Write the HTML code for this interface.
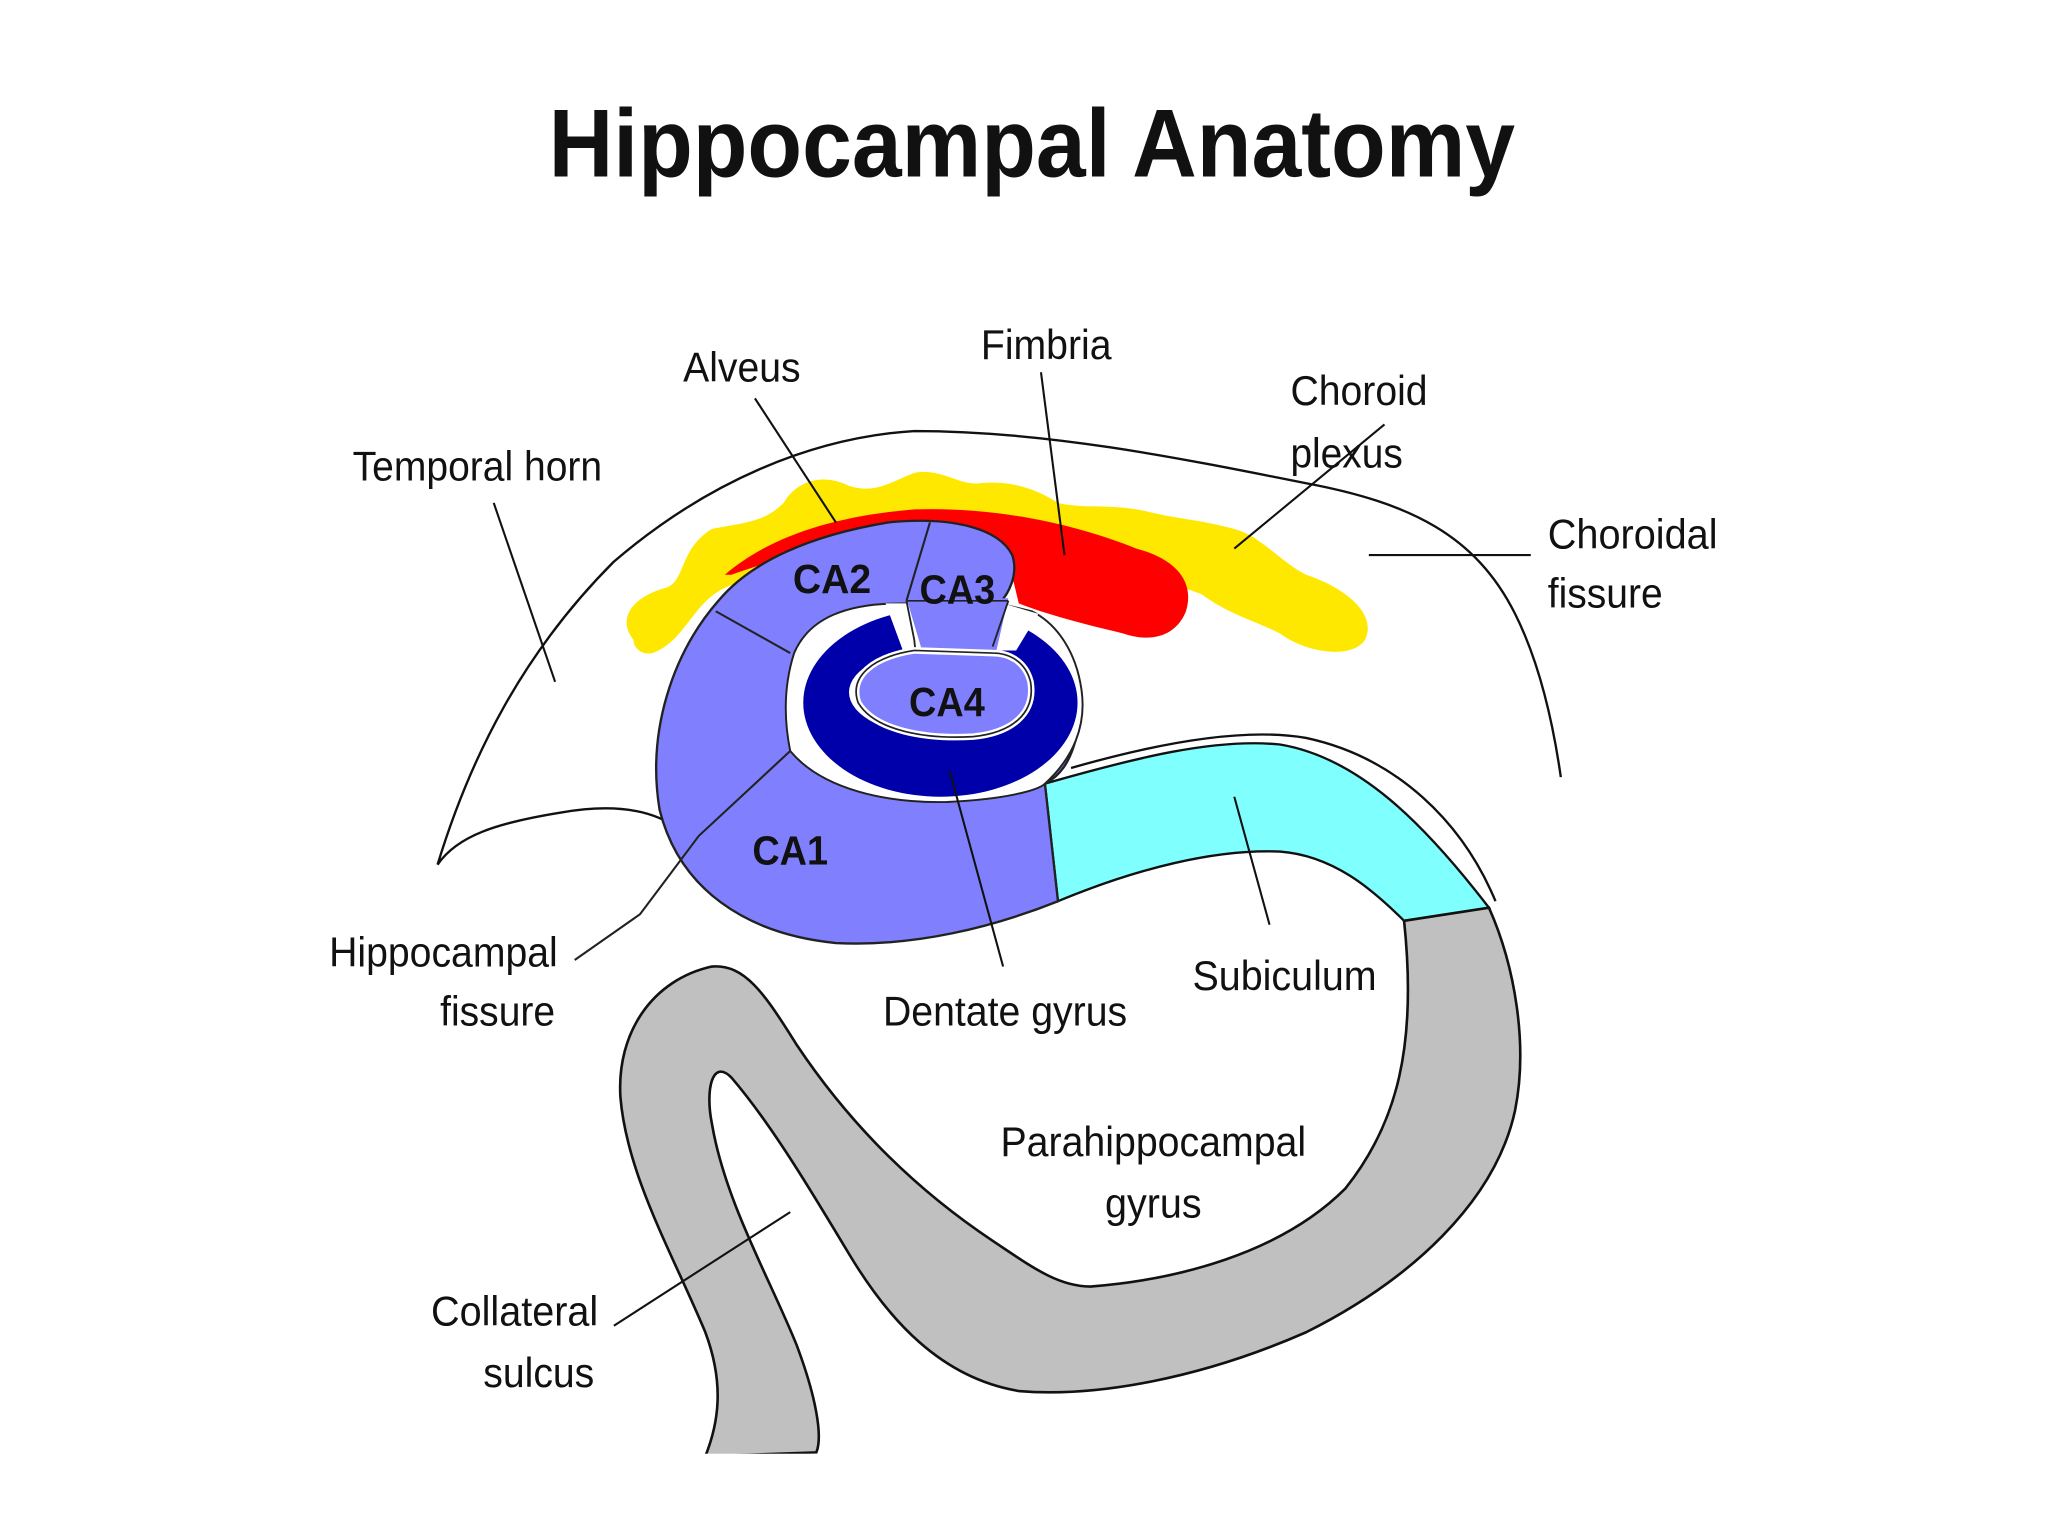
<!DOCTYPE html>
<html><head><meta charset="utf-8"><style>
html,body{margin:0;padding:0;background:#fff;}
svg{display:block;}
text{font-family:"Liberation Sans",sans-serif;fill:#111;}
.l{font-size:32px;}
.b{font-size:31px;font-weight:bold;}
</style></head><body>
<svg width="2048" height="1536" viewBox="0 0 1568 1176" xmlns="http://www.w3.org/2000/svg">
<rect width="1568" height="1176" fill="#fff"/>
<text x="790" y="135" text-anchor="middle" style="font-size:74px;font-weight:bold" textLength="740" lengthAdjust="spacingAndGlyphs">Hippocampal Anatomy</text>

<path d="M335,662 C360,580 400,500 470,430 C540,370 620,335 700,330 C800,330 900,350 1000,370 C1080,385 1130,410 1160,470 C1180,510 1190,560 1195,595" fill="none" stroke="#111" stroke-width="1.8"/>
<path d="M335,662 C350,640 380,630 430,622 C470,615 500,620 520,635" fill="none" stroke="#111" stroke-width="1.8"/>

<!-- yellow choroid plexus -->
<path d="M485,490 C470,470 490,455 510,450 C525,445 520,420 545,405 C570,400 585,400 600,385 C610,368 630,362 650,372 C670,378 680,370 700,362 C720,358 735,372 750,370 C770,368 790,372 810,385 C830,390 850,385 880,392 C905,398 920,398 945,405 C965,410 980,430 1000,440 C1030,450 1055,470 1045,490 C1035,505 1000,500 980,485 C960,475 940,470 920,455 C880,440 820,425 760,420 C680,415 600,430 555,450 C530,462 525,490 500,500 C490,502 485,495 485,490 Z" fill="#ffe800"/>

<!-- red fimbria -->
<path d="M555,440 C590,410 640,395 700,390 C760,388 820,400 870,420 C900,428 915,445 908,468 C900,488 880,492 860,485 C830,478 800,470 780,462 L770,420 C730,405 660,405 560,440 Z" fill="#ff0000"/>

<!-- cyan subiculum -->
<path d="M800,600 C870,580 930,565 980,570 C1040,580 1090,630 1140,695 L1075,705 C1050,680 1020,655 980,652 C930,650 870,665 810,690 Z" fill="#80ffff" stroke="#111" stroke-width="1.8"/>
<path d="M820,588 C900,565 960,558 1000,565 C1070,580 1120,630 1145,690" fill="none" stroke="#111" stroke-width="1.8"/>

<!-- CA blue (full) -->
<path d="M550,460 C575,430 620,410 680,400 C730,395 765,405 775,425 C780,440 772,455 765,462 L790,470 C810,490 830,520 825,560 C820,585 810,595 800,600 L810,690 C760,710 700,725 640,722 C570,715 520,680 505,620 C495,560 515,500 550,460 Z" fill="#8080ff" stroke="#222" stroke-width="1.8"/>
<!-- white gap around ring -->
<path d="M690,462 C650,462 620,472 608,500 C600,525 600,550 605,575 C630,605 680,615 725,614 C770,612 795,605 800,600 C822,580 832,555 828,528 C824,500 810,478 790,468 L765,462 Z" fill="#fff" stroke="#222" stroke-width="1.5"/>
<!-- dark ring -->
<path fill-rule="evenodd" fill="#0000aa" d="M615,538 A105,72 0 1,0 825,538 A105,72 0 1,0 615,538 Z M650,530 A70,34 0 1,0 790,530 A70,34 0 1,0 650,530 Z"/>
<!-- CA3 lobe with white slits -->
<path d="M678,462 L692,500 L708,500 L696,462 Z" fill="#fff"/>
<path d="M768,462 L758,498 L778,498 L795,470 Z" fill="#fff"/>
<path d="M694,458 L708,505 L762,502 L772,458 Z" fill="#8080ff"/>
<path d="M694,460 L700,490 L702,510" stroke="#222" stroke-width="1.4" fill="none"/>
<path d="M772,460 L760,495" stroke="#222" stroke-width="1.4" fill="none"/>
<!-- CA4 -->
<path d="M700,498 C668,503 650,518 657,538 C670,560 710,566 745,564 C775,561 793,546 789,522 C785,506 772,500 760,500 Z" fill="#8080ff" stroke="#fff" stroke-width="5"/>
<path d="M700,498 C668,503 650,518 657,538 C670,560 710,566 745,564 C775,561 793,546 789,522 C785,506 772,500 760,500 Z" fill="none" stroke="#222" stroke-width="1.3"/>
<!-- CA boundaries -->
<path d="M548,468 L605,500" stroke="#222" stroke-width="1.6"/>
<path d="M712,400 L694,460" stroke="#222" stroke-width="1.6"/>
<path d="M694,460 L772,460" stroke="#222" stroke-width="1.3"/>
<path d="M605,575 L535,640 L490,700 L440,735" stroke="#222" stroke-width="1.6" fill="none"/>

<!-- gray parahippocampal -->
<path d="M1075,705 L1140,695 C1160,740 1170,800 1160,850 C1145,920 1080,980 1000,1020 C920,1055 840,1070 780,1065 C720,1055 680,1010 650,960 C620,910 590,860 560,825 C545,810 540,835 545,860 C555,920 590,980 610,1030 C625,1070 630,1100 625,1112 L540,1115 C550,1090 555,1060 540,1020 C515,960 480,900 475,840 C472,790 500,750 545,740 C570,738 585,760 610,800 C650,860 700,910 760,950 C790,970 810,985 835,985 C900,980 980,960 1030,910 C1070,860 1085,800 1075,705 Z" fill="#c0c0c0" stroke="#111" stroke-width="2"/>
<rect x="538" y="1113" width="90" height="6" fill="#fff"/>

<g stroke="#111" stroke-width="1.6" fill="none">
<path d="M378,385 L425,522"/>
<path d="M578,305 L640,400"/>
<path d="M797,285 L815,425"/>
<path d="M1060,325 L945,420"/>
<path d="M1048,425 L1172,425"/>
<path d="M727,590 L768,740"/>
<path d="M945,610 L972,708"/>
<path d="M470,1015 L605,928"/>
</g>

<text class="l" x="568" y="292" text-anchor="middle" textLength="90" lengthAdjust="spacingAndGlyphs">Alveus</text>
<text class="l" x="801" y="275" text-anchor="middle" textLength="100" lengthAdjust="spacingAndGlyphs">Fimbria</text>
<text class="l" x="988" y="310" textLength="105" lengthAdjust="spacingAndGlyphs">Choroid</text>
<text class="l" x="988" y="358" textLength="86" lengthAdjust="spacingAndGlyphs">plexus</text>
<text class="l" x="270" y="368" textLength="191" lengthAdjust="spacingAndGlyphs">Temporal horn</text>
<text class="l" x="1185" y="420" textLength="130" lengthAdjust="spacingAndGlyphs">Choroidal</text>
<text class="l" x="1185" y="465" textLength="88" lengthAdjust="spacingAndGlyphs">fissure</text>
<text class="l" x="252" y="740" textLength="175" lengthAdjust="spacingAndGlyphs">Hippocampal</text>
<text class="l" x="337" y="785" textLength="88" lengthAdjust="spacingAndGlyphs">fissure</text>
<text class="l" x="676" y="785" textLength="187" lengthAdjust="spacingAndGlyphs">Dentate gyrus</text>
<text class="l" x="913" y="758" textLength="141" lengthAdjust="spacingAndGlyphs">Subiculum</text>
<text class="l" x="766" y="885" textLength="234" lengthAdjust="spacingAndGlyphs">Parahippocampal</text>
<text class="l" x="846" y="932" textLength="74" lengthAdjust="spacingAndGlyphs">gyrus</text>
<text class="l" x="330" y="1015" textLength="128" lengthAdjust="spacingAndGlyphs">Collateral</text>
<text class="l" x="370" y="1062" textLength="85" lengthAdjust="spacingAndGlyphs">sulcus</text>
<text class="b" x="637" y="454" text-anchor="middle" textLength="60" lengthAdjust="spacingAndGlyphs">CA2</text>
<text class="b" x="733" y="462" text-anchor="middle" textLength="58" lengthAdjust="spacingAndGlyphs">CA3</text>
<text class="b" x="725" y="548" text-anchor="middle" textLength="58" lengthAdjust="spacingAndGlyphs">CA4</text>
<text class="b" x="605" y="662" text-anchor="middle" textLength="58" lengthAdjust="spacingAndGlyphs">CA1</text>
</svg>
</body></html>
